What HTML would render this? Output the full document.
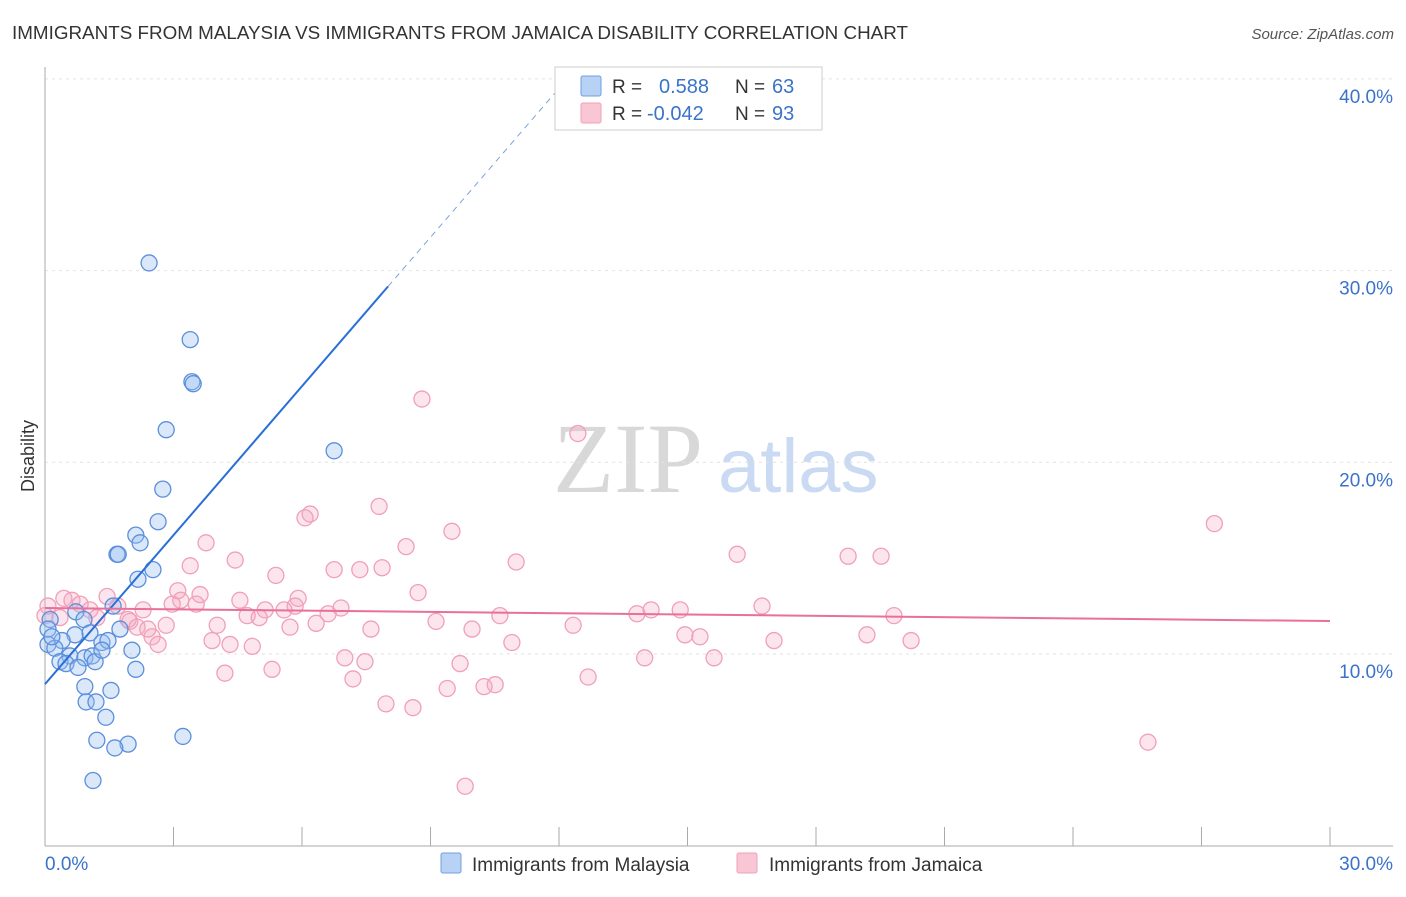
<!DOCTYPE html>
<html><head><meta charset="utf-8"><style>
body{margin:0;background:#fff;font-family:"Liberation Sans",sans-serif}
</style></head><body>
<svg id="c" width="1406" height="892" xmlns="http://www.w3.org/2000/svg" font-family="Liberation Sans, sans-serif">
<text x="12" y="39" font-size="18" fill="#333" textLength="896" lengthAdjust="spacingAndGlyphs">IMMIGRANTS FROM MALAYSIA VS IMMIGRANTS FROM JAMAICA DISABILITY CORRELATION CHART</text>
<text x="1394" y="39" font-size="15" fill="#555" text-anchor="end" font-style="italic">Source: ZipAtlas.com</text>
<text x="34" y="456" font-size="18" fill="#333" transform="rotate(-90 34 456)" text-anchor="middle">Disability</text>
<text x="553" y="492" font-size="100" fill="#d8d8d8" style="font-family:'Liberation Serif',serif">ZIP</text>
<text x="718" y="492" font-size="76" fill="#c9daf2">atlas</text>
<g id="grid"></g><g id="pts"></g><g id="lines"></g>
<g>
<rect x="555" y="67" width="267" height="63" fill="#fff" stroke="#ccc"/>
<rect x="581" y="76" width="20" height="20" fill="#b8d2f5" stroke="#6f9fe0" rx="2"/>
<rect x="581" y="103" width="20" height="20" fill="#f9c6d5" stroke="#f0a0b8" rx="2"/>
<text x="612" y="93" font-size="19" fill="#333">R =</text><text x="659" y="93" font-size="20" fill="#3b73c9">0.588</text>
<text x="735" y="93" font-size="19" fill="#333">N =</text><text x="772" y="93" font-size="20" fill="#3b73c9">63</text>
<text x="612" y="120" font-size="19" fill="#333">R =</text><text x="647" y="120" font-size="20" fill="#3b73c9">-0.042</text>
<text x="735" y="120" font-size="19" fill="#333">N =</text><text x="772" y="120" font-size="20" fill="#3b73c9">93</text>
</g>
<g>
<rect x="441" y="853" width="20" height="20" fill="#b8d2f5" stroke="#6f9fe0" rx="2"/>
<text x="472" y="871" font-size="19" fill="#333">Immigrants from Malaysia</text>
<rect x="737" y="853" width="20" height="20" fill="#f9c6d5" stroke="#f0a0b8" rx="2"/>
<text x="769" y="871" font-size="19" fill="#333">Immigrants from Jamaica</text>
</g>
</svg>
<script>
const blueX=[2.43,3.39,3.43,3.46,2.83,6.75,2.75,2.64,2.12,2.22,1.68,1.71,2.52,2.17,1.59,0.72,0.12,1.75,0.91,1.05,0.7,0.4,0.07,0.23,1.33,1.47,2.03,0.58,0.93,1.1,1.17,0.35,0.49,0.77,2.12,0.93,1.54,0.96,1.19,1.42,1.21,1.94,1.63,3.22,1.12,0.07,0.16,1.33];
const blueY=[30.4,26.4,24.2,24.1,21.7,20.6,18.6,16.9,16.2,15.8,15.2,15.2,14.4,13.9,12.5,12.2,11.8,11.3,11.8,11.1,11.0,10.7,10.5,10.3,10.6,10.7,10.2,9.9,9.8,9.9,9.6,9.6,9.5,9.3,9.2,8.3,8.1,7.5,7.5,6.7,5.5,5.3,5.1,5.7,3.4,11.3,10.9,10.2];
const pinkX=[8.8,12.44,27.3,7.8,6.19,6.07,9.5,3.76,8.43,16.16,18.75,19.52,4.44,11.0,3.39,6.75,7.35,7.87,5.39,3.1,3.62,8.71,1.45,0.44,0.63,3.17,5.91,4.55,2.97,3.53,1.7,0.82,0.07,5.84,6.91,5.14,5.58,1.05,2.29,4.72,5.0,6.61,10.62,13.82,14.15,14.83,16.74,19.82,0.35,1.21,1.94,1.98,9.13,12.33,6.33,5.72,4.02,2.83,2.15,2.4,9.97,7.61,14.94,15.29,19.19,2.5,2.64,3.9,4.32,4.84,10.9,17.02,20.22,7.0,14.0,15.62,7.47,9.69,5.3,4.2,7.19,12.68,10.51,10.25,9.39,7.96,8.59,25.75,9.81,0.0];
const pinkY=[23.3,21.5,16.8,17.7,17.3,17.1,16.4,15.8,15.6,15.2,15.1,15.1,14.9,14.8,14.6,14.4,14.4,14.5,14.1,13.3,13.1,13.2,13.0,12.9,12.8,12.8,12.9,12.8,12.6,12.6,12.5,12.6,12.5,12.5,12.4,12.3,12.3,12.3,12.3,12.0,11.9,12.1,12.0,12.1,12.3,12.3,12.5,12.0,11.9,11.9,11.8,11.7,11.7,11.5,11.6,11.4,11.5,11.5,11.4,11.3,11.3,11.3,11.0,10.9,11.0,10.9,10.5,10.7,10.5,10.4,10.6,10.7,10.7,9.8,9.8,9.8,9.6,9.5,9.2,9.0,8.7,8.8,8.4,8.3,8.2,7.4,7.2,5.4,3.1,12.0];
const blueTrend=[8.43,2.59]; // intercept, slope
const pinkTrend=[12.4,-0.0227];
const yTicks=[10,20,30,40];
const yTickLabels=["10.0%","20.0%","30.0%","40.0%"];
const xTicks=[0,3,6,9,12,15,18,21,24,27,30];
const NS="http://www.w3.org/2000/svg";
const X=v=>45+v/30*1285, Y=v=>654-(v-10)*19.17;
function mk(t,a,p){const e=document.createElementNS(NS,t);for(const k in a)e.setAttribute(k,a[k]);p.appendChild(e);return e;}
const g=document.getElementById('grid');
yTicks.forEach((t,i)=>{
 const l=mk('line',{x1:45,x2:1393,y1:Y(t),y2:Y(t),stroke:'#e2e2e2','stroke-dasharray':'3,4'},g);
 
 
 const tx=mk('text',{x:1393,y:Y(t)+24,'font-size':19,fill:'#3b73c9','text-anchor':'end'},g);
 tx.textContent=yTickLabels[i];
 
 
});
let ax=mk('line',{x1:45,x2:45,y1:67,y2:846,stroke:'#aaa'},g);


ax=mk('line',{x1:45,x2:1393,y1:846,y2:846,stroke:'#aaa'},g);


xTicks.forEach(t=>{const l=mk('line',{x1:X(t),x2:X(t),y1:827,y2:846,stroke:'#aaa'},g);
 
 });
let t0=mk('text',{x:45,y:870,'font-size':19,fill:'#3b73c9'},g);t0.textContent='0.0%';


let t1=mk('text',{x:1393,y:870,'font-size':19,fill:'#3b73c9','text-anchor':'end'},g);t1.textContent='30.0%';


const P=document.getElementById('pts');
pinkX.forEach((x,i)=>{const c=mk('circle',{cx:X(x),cy:Y(pinkY[i]),r:8,fill:'rgba(245,170,195,0.3)',stroke:'#f0a0b8','stroke-width':1.3},P);
 
 });
blueX.forEach((x,i)=>{const c=mk('circle',{cx:X(x),cy:Y(blueY[i]),r:8,fill:'rgba(150,190,240,0.35)',stroke:'#5b8fdc','stroke-width':1.3},P);
 
 });
const L=document.getElementById('lines');
const bx1=8.01, bx2=(40-blueTrend[0])/blueTrend[1];
let l=mk('line',{x1:X(0),y1:Y(blueTrend[0]),x2:X(bx1),y2:Y(blueTrend[0]+blueTrend[1]*bx1),stroke:'#2a6fd6','stroke-width':2},L);


l=mk('line',{x1:X(bx1),y1:Y(blueTrend[0]+blueTrend[1]*bx1),x2:X(bx2),y2:Y(40),stroke:'#7aa3e0','stroke-width':1,'stroke-dasharray':'6,5'},L);


l=mk('line',{x1:X(0),y1:Y(pinkTrend[0]),x2:X(30),y2:Y(pinkTrend[0]+pinkTrend[1]*30),stroke:'#e8709a','stroke-width':2},L);


</script>
</body></html>
